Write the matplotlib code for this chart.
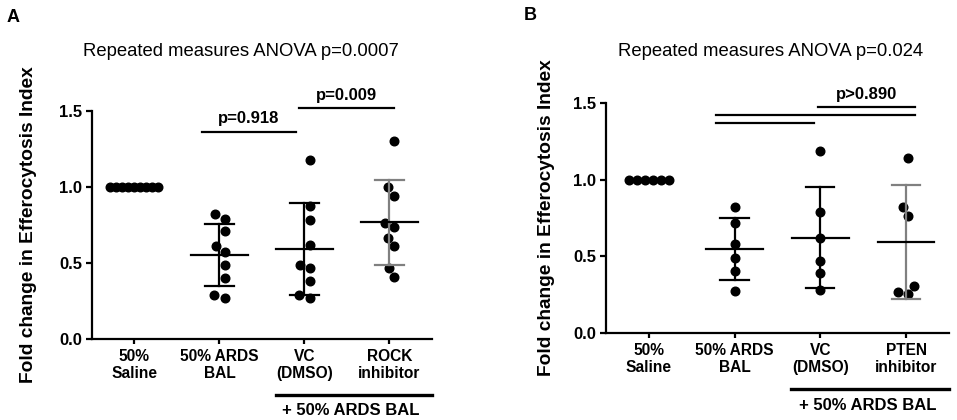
import numpy as np
import matplotlib
matplotlib.use("Agg")
import matplotlib.pyplot as plt
import matplotlib.transforms as mtransforms

plt.rcParams['font.family'] = ['Liberation Sans', 'DejaVu Sans']

# ---- data ----
groups_a = ['50%\nSaline', '50% ARDS\nBAL', 'VC\n(DMSO)', 'ROCK\ninhibitor']
saline_a = [1.0, 1.0, 1.0, 1.0, 1.0, 1.0, 1.0, 1.0, 1.0]
ards_a = [0.82, 0.79, 0.71, 0.61, 0.57, 0.487, 0.40, 0.29, 0.27]
vc_a = [1.18, 0.875, 0.78, 0.62, 0.487, 0.465, 0.38, 0.29, 0.27]
rock_a = [1.305, 0.998, 0.943, 0.76, 0.735, 0.667, 0.612, 0.47, 0.41]

groups_b = ['50%\nSaline', '50% ARDS\nBAL', 'VC\n(DMSO)', 'PTEN\ninhibitor']
saline_b = [1.0, 1.0, 1.0, 1.0, 1.0, 1.0]
ards_b = [0.824, 0.715, 0.578, 0.491, 0.406, 0.276]
vc_b = [1.189, 0.787, 0.622, 0.47, 0.389, 0.28]
pten_b = [1.139, 0.824, 0.765, 0.309, 0.265, 0.254]

title_a = 'Repeated measures ANOVA p=0.0007'
title_b = 'Repeated measures ANOVA p=0.024'
ylabel = 'Fold change in Efferocytosis Index'
yticks = [0.0, 0.5, 1.0, 1.5]

# brackets: (x start, x end, y, label)
brackets_a = [(0.79, 1.905, 1.364, 'p=0.918'), (1.93, 3.05, 1.518, 'p=0.009')]
brackets_b = [(1.97, 3.10, 1.472, 'p>0.890'), (0.78, 3.10, 1.422, ''), (0.78, 1.93, 1.368, '')]


def swarm_offsets(ax, vals, x0, d):
    # simple beeswarm in pixel space
    trans = ax.transData
    pts = trans.transform(np.column_stack([np.full(len(vals), x0), vals]))
    ypix = pts[:, 1]
    xpx_per_unit = trans.transform((1, 0))[0] - trans.transform((0, 0))[0]
    order = np.argsort(ypix)
    placed = []
    offs = np.zeros(len(vals))
    for i in order:
        y = ypix[i]
        cands = [0.0]
        for (px, py) in placed:
            dy = y - py
            if abs(dy) < d:
                dx = np.sqrt(d ** 2 - dy ** 2)
                cands += [px + dx, px - dx]
        cands.sort(key=lambda c: (abs(c), c))
        for c in cands:
            if all((c - px) ** 2 + (y - py) ** 2 >= d ** 2 - 1e-6 for px, py in placed):
                break
        placed.append((c, y))
        offs[i] = c
    offs -= (offs.max() + offs.min()) / 2
    return offs / xpx_per_unit


def panel(ax, groups, data, title, title_x, title_y, brackets, d_tie, label_x):
    ax.set_xlim(-0.5, 3.5)
    ax.set_ylim(0, 1.5)
    for s in ['top', 'right']:
        ax.spines[s].set_visible(False)
    for s in ['left', 'bottom']:
        ax.spines[s].set_linewidth(1.6)
    ax.set_yticks(yticks)
    ax.set_yticklabels(['0.0', '0.5', '1.0', '1.5'], fontsize=12, fontweight='bold')
    ax.set_xticks(range(4))
    ax.set_xticklabels(groups, fontsize=11.2, fontweight='bold', linespacing=1.1)
    ax.tick_params(axis='y', length=4.5, width=1.6, pad=2.5)
    ax.tick_params(axis='x', length=3.5, width=1.6, pad=4)

    for i, vals in enumerate(data):
        vals = np.array(vals)
        d = d_tie if np.ptp(vals) == 0 else 10.5
        offs = swarm_offsets(ax, vals, i, d)
        ax.plot(i + offs, vals, 'o', color='black', markersize=6.2, zorder=3, clip_on=False)
        if i == 0:
            continue
        m = vals.mean()
        sd = vals.std(ddof=1)
        ec = '#808080' if i == 3 else 'black'
        ax.plot([i, i], [m - sd, m + sd], color=ec, lw=1.6, zorder=4)
        for yy in (m - sd, m + sd):
            ax.plot([i - 0.165, i + 0.165], [yy, yy], color=ec, lw=1.6, zorder=4)
        ax.plot([i - 0.33, i + 0.33], [m, m], color='black', lw=1.6, zorder=5)

    for x1, x2, y, lab in brackets:
        ax.plot([x1, x2], [y, y], color='black', lw=1.6, clip_on=False)
        if lab:
            ax.annotate(lab, xy=((x1 + x2) / 2, y), xytext=(0, 9.5), textcoords='offset points',
                        ha='center', va='center', fontsize=12, fontweight='bold',
                        annotation_clip=False)

    ax.text(title_x, title_y, title, transform=ax.transAxes, ha='center', va='center',
            fontsize=13.3)
    ax.set_ylabel(ylabel, fontsize=13.8, fontweight='bold')
    ax.yaxis.set_label_coords(label_x, 0.5)

    tr = mtransforms.blended_transform_factory(ax.transData, ax.transAxes)
    ax.plot([1.66, 3.5], [-0.245, -0.245], color='black', lw=2.4, transform=tr, clip_on=False)
    ax.text(2.55, -0.315, '+ 50% ARDS BAL', transform=tr, ha='center', va='center',
            fontsize=12, fontweight='bold')


fig = plt.figure(figsize=(9.57, 4.2), dpi=100)
ax_a = fig.add_axes([0.0961, 0.1929, 0.3553, 0.5428])
ax_b = fig.add_axes([0.6332, 0.2071, 0.3584, 0.5477])

panel(ax_a, groups_a, [saline_a, ards_a, vc_a, rock_a], title_a, 0.438, 1.259,
      brackets_a, 6.0, -0.162)
panel(ax_b, groups_b, [saline_b, ards_b, vc_b, pten_b], title_b, 0.481, 1.222,
      brackets_b, 8.0, -0.149)

fig.text(0.0136, 0.9595, 'A', fontsize=13, fontweight='bold', ha='center', va='center')
fig.text(0.554, 0.962, 'B', fontsize=13, fontweight='bold', ha='center', va='center')

fig.savefig('out.png', dpi=100)
